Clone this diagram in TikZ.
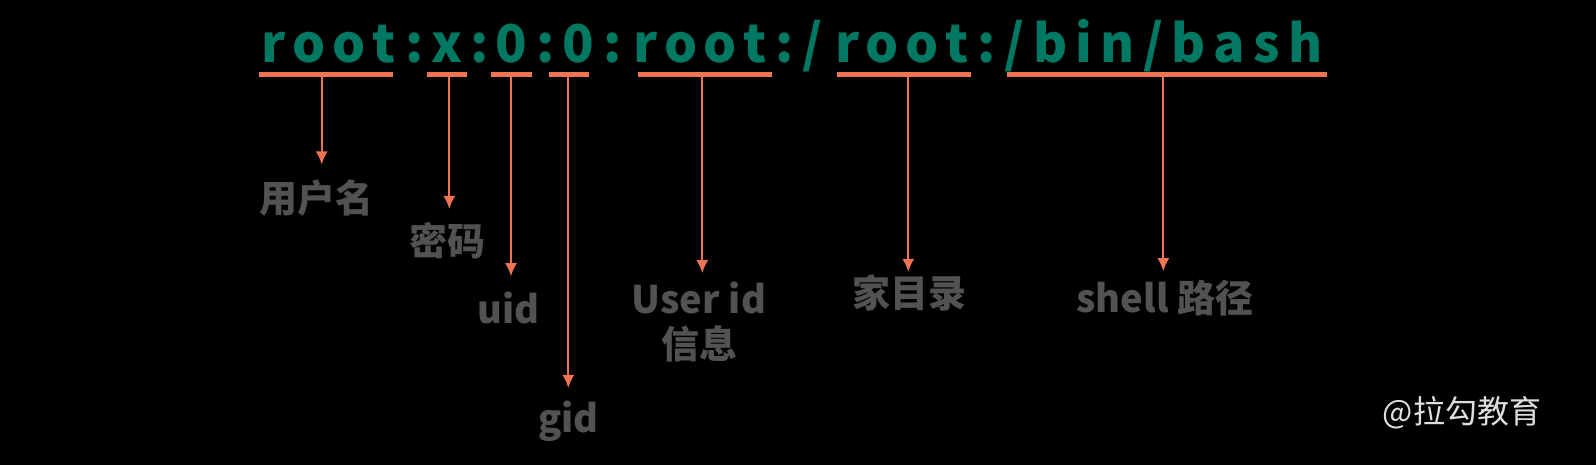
\documentclass[tikz,border=0pt]{standalone}
\usepackage{fontspec}
\usepackage{xcolor}
\usepackage{tikz}
\usetikzlibrary{positioning,arrows.meta}
\setmainfont{Noto Sans CJK SC}
\definecolor{codeteal}{RGB}{0,120,98}
\definecolor{markorange}{RGB}{238,116,84}
\definecolor{labelgray}{RGB}{82,82,82}
\definecolor{markgray}{RGB}{222,222,222}
% letters spread evenly over a given width
\newcommand{\spreadword}[2]{\makebox[#1][s]{#2}}

\begin{document}
\begin{tikzpicture}[x=1pt, y=-1pt, >=latex,
    code/.style={anchor=base, inner sep=0pt, text=codeteal, font=\bfseries\fontsize{52}{52}\selectfont},
    bar/.style={draw=markorange, line width=4.5pt},
    pointer/.style={draw=markorange, line width=2pt, -{Latex[length=13pt,width=12pt]}},
    lab/.style={inner sep=0pt, align=center, text=labelgray, font=\bfseries\fontsize{38}{45}\selectfont}]
  \fill[black] (0,0) rectangle (1596,465);
  % the passwd line
  \node[code] (f1) at (328.7,62.7) {\spreadword{134pt}{r\hfill o\hfill o\hfill t}};
  \node[code] (c1) at (414.5,62.7) {:};
  \node[code] (f2) at (447.5,62.7) {x};
  \node[code] (c2) at (479.5,62.7) {:};
  \node[code] (f3) at (511.5,62.7) {0};
  \node[code] (c3) at (545.8,62.7) {:};
  \node[code] (f4) at (578.3,62.7) {0};
  \node[code] (c4) at (612.3,62.7) {:};
  \node[code] (f5) at (700,62.7) {\spreadword{133pt}{r\hfill o\hfill o\hfill t}};
  \node[code] (c5) at (785,62.7) {:};
  \node[code] (s1) at (812.3,62.7) {/};
  \node[code] (f6) at (901.7,62.7) {\spreadword{133pt}{r\hfill o\hfill o\hfill t}};
  \node[code] (c6) at (986.7,62.7) {:};
  \node[code] (f7) at (1163.8,62.7) {\spreadword{318pt}{/\hfill b\hfill i\hfill n\hfill /\hfill b\hfill a\hfill s\hfill h}};
  % underlines
  \draw[bar] (259.3,74.3) -- (393.3,74.3);
  \draw[bar] (426.7,74.3) -- (467.3,74.3);
  \draw[bar] (491.3,74.3) -- (532,74.3);
  \draw[bar] (549,74.3) -- (589.3,74.3);
  \draw[bar] (638.3,74.3) -- (772.3,74.3);
  \draw[bar] (837.3,74.3) -- (971,74.3);
  \draw[bar] (1007.3,74.3) -- (1326.7,74.3);
  \coordinate (u1) at (321.7,74.3);
  \coordinate (u2) at (449.3,74.3);
  \coordinate (u3) at (511,74.3);
  \coordinate (u4) at (568.3,74.3);
  \coordinate (u5) at (702.3,74.3);
  \coordinate (u6) at (908.3,74.3);
  \coordinate (u7) at (1163.3,74.3);
  % labels
  \node[lab] (name) at (316.5,198) {用户名};
  \node[lab] (pass) at (447.5,240.5) {密码};
  \node[lab] (uid) at (508.5,307.5) {uid};
  \node[lab] (gid) at (568.5,421.5) {gid};
  \node[lab] (info) at (699,322.5) {User id\\信息};
  \node[lab] (home) at (909,292.5) {家目录};
  \node[lab] (shell) at (1165,298.5) {shell 路径};
  \draw[pointer, shorten >=15pt] (u1) -- (u1 |- name.north);
  \draw[pointer, shorten >=13pt] (u2) -- (u2 |- pass.north);
  \draw[pointer, shorten >=15pt] (u3) -- (u3 |- uid.north);
  \draw[pointer, shorten >=13pt] (u4) -- (u4 |- gid.north);
  \draw[pointer, shorten >=9pt] (u5) -- (u5 |- info.north);
  \draw[pointer, shorten >=2pt] (u6) -- (u6 |- home.north);
  \draw[pointer, shorten >=9pt] (u7) -- (u7 |- shell.north);
  \node[inner sep=0pt, text=markgray, font=\fontsize{32}{32}\selectfont] (mark) at (1462,412.5) {@拉勾教育};
\end{tikzpicture}
\end{document}
